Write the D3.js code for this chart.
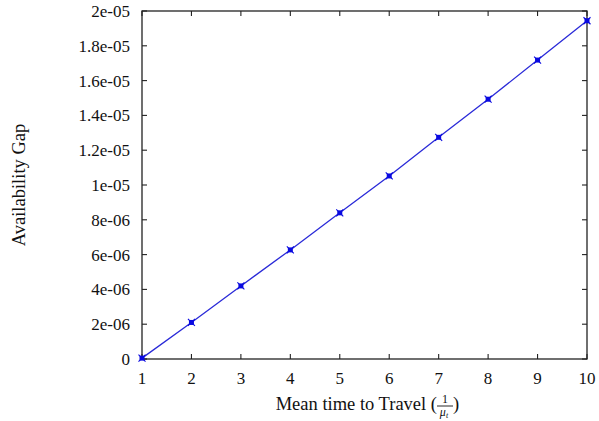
<!DOCTYPE html>
<html lang="en">
  <head>
    <meta charset="UTF-8" />
    <title>Availability Gap</title>
    <script src="https://d3js.org/d3.v7.min.js"></script>
    <style>
      body { margin: 0; background: #fff; }
      svg text { font-family: "Liberation Serif", "DejaVu Serif", serif; fill: #111; }
    </style>
  </head>
  <body>
    <svg></svg>
    <script>
      // values
      let meanTime = [1, 2, 3, 4, 5, 6, 7, 8, 9, 10];
      let gap = [0.05e-6, 2.1e-6, 4.2e-6, 6.27e-6, 8.4e-6, 10.52e-6, 12.74e-6, 14.93e-6, 17.18e-6, 19.44e-6];
      let xTicks = [1, 2, 3, 4, 5, 6, 7, 8, 9, 10];
      let yTicks = [0, 2e-6, 4e-6, 6e-6, 8e-6, 1e-5, 1.2e-5, 1.4e-5, 1.6e-5, 1.8e-5, 2e-5];
      let yLabels = ["0", "2e-06", "4e-06", "6e-06", "8e-06", "1e-05", "1.2e-05", "1.4e-05", "1.6e-05", "1.8e-05", "2e-05"];

      let width = 599,
        height = 421;
      let m = { left: 142, right: 12, top: 11, bottom: 62 };

      let svg = d3.select("svg").attr("width", width).attr("height", height);

      let x = d3.scaleLinear().domain([1, 10]).range([m.left, width - m.right]);
      let y = d3.scaleLinear().domain([0, 2e-5]).range([height - m.bottom, m.top]);

      let axisColor = "#222";
      let tl = 5;

      // frame
      svg
        .append("rect")
        .attr("x", x(1))
        .attr("y", y(2e-5))
        .attr("width", x(10) - x(1))
        .attr("height", y(0) - y(2e-5))
        .attr("fill", "none")
        .attr("stroke", axisColor)
        .attr("stroke-width", 1.3);

      let ticks = svg.append("g").attr("stroke", axisColor).attr("stroke-width", 1.1);
      xTicks.forEach((t) => {
        ticks.append("line").attr("x1", x(t)).attr("x2", x(t)).attr("y1", y(0)).attr("y2", y(0) - tl);
        ticks.append("line").attr("x1", x(t)).attr("x2", x(t)).attr("y1", y(2e-5)).attr("y2", y(2e-5) + tl);
      });
      yTicks.forEach((t) => {
        ticks.append("line").attr("x1", x(1)).attr("x2", x(1) + tl).attr("y1", y(t)).attr("y2", y(t));
        ticks.append("line").attr("x1", x(10)).attr("x2", x(10) - tl).attr("y1", y(t)).attr("y2", y(t));
      });

      svg
        .append("g")
        .selectAll("text")
        .data(xTicks)
        .join("text")
        .attr("x", (d) => x(d))
        .attr("y", y(0) + 25)
        .attr("text-anchor", "middle")
        .attr("font-size", 17)
        .text((d) => d);

      svg
        .append("g")
        .selectAll("text")
        .data(yTicks)
        .join("text")
        .attr("x", x(1) - 12)
        .attr("y", (d) => y(d))
        .attr("dy", "0.35em")
        .attr("text-anchor", "end")
        .attr("font-size", 17)
        .text((d, i) => yLabels[i]);

      // axis titles
      svg
        .append("text")
        .attr("transform", "translate(25,185) rotate(-90)")
        .attr("text-anchor", "middle")
        .attr("font-size", 18.5)
        .text("Availability Gap");

      let xl = svg.append("g").attr("font-size", 18.5);
      xl.append("text").attr("x", 437).attr("y", 410).attr("text-anchor", "end").text("Mean time to Travel (");
      xl.append("text").attr("x", 445).attr("y", 403).attr("text-anchor", "middle").attr("font-size", 12).text("1");
      xl.append("line").attr("x1", 437).attr("x2", 453).attr("y1", 406).attr("y2", 406).attr("stroke", "#111").attr("stroke-width", 0.9);
      let den = xl.append("text").attr("x", 444).attr("y", 416).attr("text-anchor", "middle").attr("font-size", 12).attr("font-style", "italic");
      den.append("tspan").text("μ");
      den.append("tspan").attr("font-size", 8).attr("dy", 2).text("t");
      xl.append("text").attr("x", 453).attr("y", 410).text(")");

      // series
      let pts = meanTime.map((d, i) => [d, gap[i]]);
      svg
        .append("path")
        .datum(pts)
        .attr("fill", "none")
        .attr("stroke", "#2a2ad8")
        .attr("stroke-width", 1.3)
        .attr("d", d3.line().x((d) => x(d[0])).y((d) => y(d[1])));

      let mk = svg
        .append("g")
        .selectAll("g")
        .data(pts)
        .join("g")
        .attr("transform", (d) => "translate(" + x(d[0]) + "," + y(d[1]) + ")");
      mk.append("rect").attr("x", -2.5).attr("y", -2.5).attr("width", 5).attr("height", 5).attr("fill", "#0a0ae0");
      mk.append("path").attr("d", "M-3.5,-3.5L3.5,3.5M-3.5,3.5L3.5,-3.5").attr("stroke", "#0a0ae0").attr("stroke-width", 1.1);
    </script>
  </body>
</html>
